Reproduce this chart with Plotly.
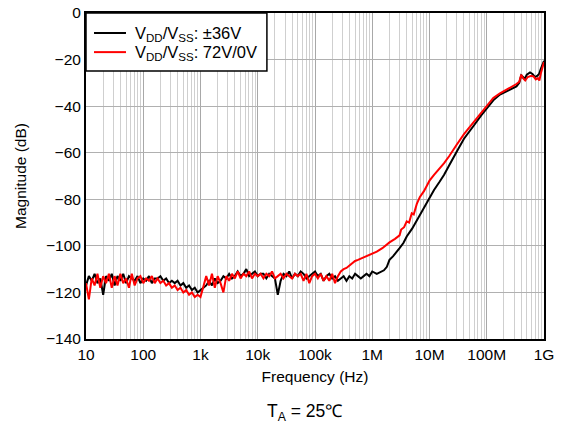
import numpy as np
import plotly.graph_objects as go

# ---------------- data ----------------
# low-frequency sampling grid 10 Hz .. 1 MHz (20 points / decade)
f_low = list(np.logspace(1, 6, 101))

black_low = [
    -117, -113, -115, -112, -116, -114, -121, -113, -115, -112,
    -117, -113, -115, -112, -116, -113, -114, -115, -113, -116,
    -114, -115, -113, -116, -114, -114, -113, -115, -114, -116,
    -115, -116, -115, -117, -116, -118, -117, -119, -118, -120,
    -119, -118, -117, -115, -117, -114, -116, -115, -113, -114,
    -112, -114, -113, -111, -113, -112, -110, -113, -112, -111,
    -113, -112, -112, -114, -112, -113, -114, -121, -115, -112,
    -113, -111, -114, -112, -113, -111, -112, -114, -113, -112,
    -111, -113, -112, -115, -113, -112, -114, -113, -115, -114,
    -113, -115, -113, -114, -112, -113, -114, -113, -112, -113,
    -111,
]
red_low = [
    -116, -123, -114, -117, -112, -118, -113, -116, -112, -118,
    -113, -117, -112, -116, -114, -118, -112, -117, -114, -113,
    -116, -114, -115, -113, -116, -114, -116, -115, -117, -116,
    -118, -117, -119, -118, -120, -119, -121, -120, -122, -121,
    -122, -118, -113, -117, -112, -118, -113, -116, -120, -113,
    -115, -112, -114, -111, -114, -112, -113, -111, -114, -112,
    -113, -112, -114, -112, -113, -111, -114, -113, -112, -114,
    -112, -113, -114, -112, -113, -112, -115, -112, -116, -113,
    -112, -114, -112, -115, -113, -115, -112, -116, -113, -111,
    -110, -109.5, -108.5, -107.5, -106.5, -106, -105.5, -105, -104.5, -104,
    -103.5,
]

f_black_hi = [1.2e6, 1.4e6, 1.6e6, 1.8e6, 2.0e6, 2.3e6, 2.6e6, 3.0e6, 3.5e6, 4e6,
              5e6, 6e6, 7e6, 8.5e6, 10e6, 12e6, 15e6, 18e6, 22e6, 26e6,
              30e6, 40e6, 50e6, 60e6, 80e6, 100e6, 130e6, 170e6, 220e6, 280e6,
              330e6, 370e6, 400e6, 430e6, 460e6, 500e6, 570e6, 630e6, 700e6, 760e6,
              820e6, 880e6, 950e6, 1e9]
black_hi = [-112, -111, -110.5, -109, -106, -104.5, -103, -101, -98.8, -96,
            -92.5, -89, -86, -82.5, -79.5, -76, -72.5, -69.5, -65.5, -62.5,
            -59.5, -54, -50.5, -48.2, -44, -41, -37.5, -35, -33.5, -32.3,
            -31.5, -30, -26.8, -27.5, -28.3, -26.5, -25.5, -26.2, -27.5, -27,
            -26.2, -24, -22, -20.5]

f_red_hi = [1.2e6, 1.5e6, 2e6, 2.5e6, 3.0e6, 3.2e6, 3.6e6, 4e6, 4.4e6, 4.9e6,
            5.3e6, 6e6, 6.8e6, 8e6, 10e6, 12e6, 15e6, 18e6, 22e6, 26e6,
            30e6, 40e6, 50e6, 60e6, 80e6, 100e6, 130e6, 170e6, 220e6, 280e6,
            330e6, 370e6, 400e6, 430e6, 470e6, 520e6, 600e6, 660e6, 720e6, 780e6,
            830e6, 880e6, 930e6, 1e9]
red_hi = [-102.5, -101, -98.5, -97, -95.5, -93, -92, -89.5, -90, -86,
          -86.5, -82, -79, -76.5, -72, -69.5, -67, -64.5, -61.5, -58.5,
          -56.5, -52, -49, -47, -43, -40, -36.5, -34.5, -33, -31.8,
          -30.5, -29.5, -26.5, -28, -29, -27.5, -27, -27.3, -28.5, -28,
          -29, -26, -23.5, -21]

x_tickvals = [1e1, 1e2, 1e3, 1e4, 1e5, 1e6, 1e7, 1e8, 1e9]
x_ticktext = ["10", "100", "1k", "10k", "100k", "1M", "10M", "100M", "1G"]
y_tickvals = [0, -20, -40, -60, -80, -100, -120, -140]

series_names = ["V<sub>DD</sub>/V<sub>SS</sub>: ±36V", "V<sub>DD</sub>/V<sub>SS</sub>: 72V/0V"]
series_colors = ["black", "#ff0000"]

# ---------------- figure ----------------
FONT = "Liberation Sans, Arial, sans-serif"
fig = go.Figure()
fig.add_trace(go.Scatter(x=f_low + f_black_hi, y=black_low + black_hi, mode="lines",
                         line=dict(color=series_colors[0], width=2), name=series_names[0]))
fig.add_trace(go.Scatter(x=f_low + f_red_hi, y=red_low + red_hi, mode="lines",
                         line=dict(color=series_colors[1], width=2), name=series_names[1]))

# legend box (drawn in paper coordinates)
shapes = [dict(type="rect", xref="paper", yref="paper", x0=0, x1=0.395, y0=0.822, y1=1,
               line=dict(color="black", width=1.5), fillcolor="white", layer="above")]
annotations = []
legend_rows_y = [0.9387, 0.880]
for name, color, yy in zip(series_names, series_colors, legend_rows_y):
    shapes.append(dict(type="line", xref="paper", yref="paper", x0=0.0175, x1=0.0873,
                       y0=yy, y1=yy, line=dict(color=color, width=2), layer="above"))
    annotations.append(dict(text=name, x=0.1035, y=yy, xref="paper", yref="paper",
                            showarrow=False, xanchor="left", yanchor="middle", yshift=-1,
                            font=dict(family=FONT, size=16.5, color="black")))

annotations.append(dict(text="T<sub>A</sub> = 25℃", x=0.478, y=-0.224,
                        xref="paper", yref="paper", showarrow=False,
                        xanchor="center", yanchor="middle",
                        font=dict(family=FONT, size=17.5, color="black")))

fig.update_layout(
    width=565, height=432,
    margin=dict(l=86, r=21, t=13, b=93, autoexpand=False),
    paper_bgcolor="white", plot_bgcolor="white",
    font=dict(family=FONT, size=15.5, color="black"),
    showlegend=False,
    shapes=shapes,
    annotations=annotations,
)
fig.update_xaxes(
    type="log", range=[1, 9],
    tickvals=x_tickvals, ticktext=x_ticktext, ticks="",
    showgrid=True, gridcolor="#a8a8a8", gridwidth=1,
    minor=dict(showgrid=True, gridcolor="#cfcfcf", gridwidth=1, dtick="D1", ticks=""),
    showline=True, linecolor="black", linewidth=2, mirror=True,
    title=dict(text="Frequency (Hz)", standoff=10, font=dict(family=FONT, size=15.5)),
    tickfont=dict(family=FONT, size=15.5), zeroline=False, automargin=False,
)
fig.update_yaxes(
    range=[-140, 0], tickvals=y_tickvals, ticks="",
    showgrid=True, gridcolor="#b0b0b0", gridwidth=1,
    showline=True, linecolor="black", linewidth=2, mirror=True,
    title=dict(text="Magnitude (dB)", standoff=16, font=dict(family=FONT, size=15.5)),
    tickfont=dict(family=FONT, size=15.5), zeroline=False, automargin=False,
)

fig.write_html("out.html")
